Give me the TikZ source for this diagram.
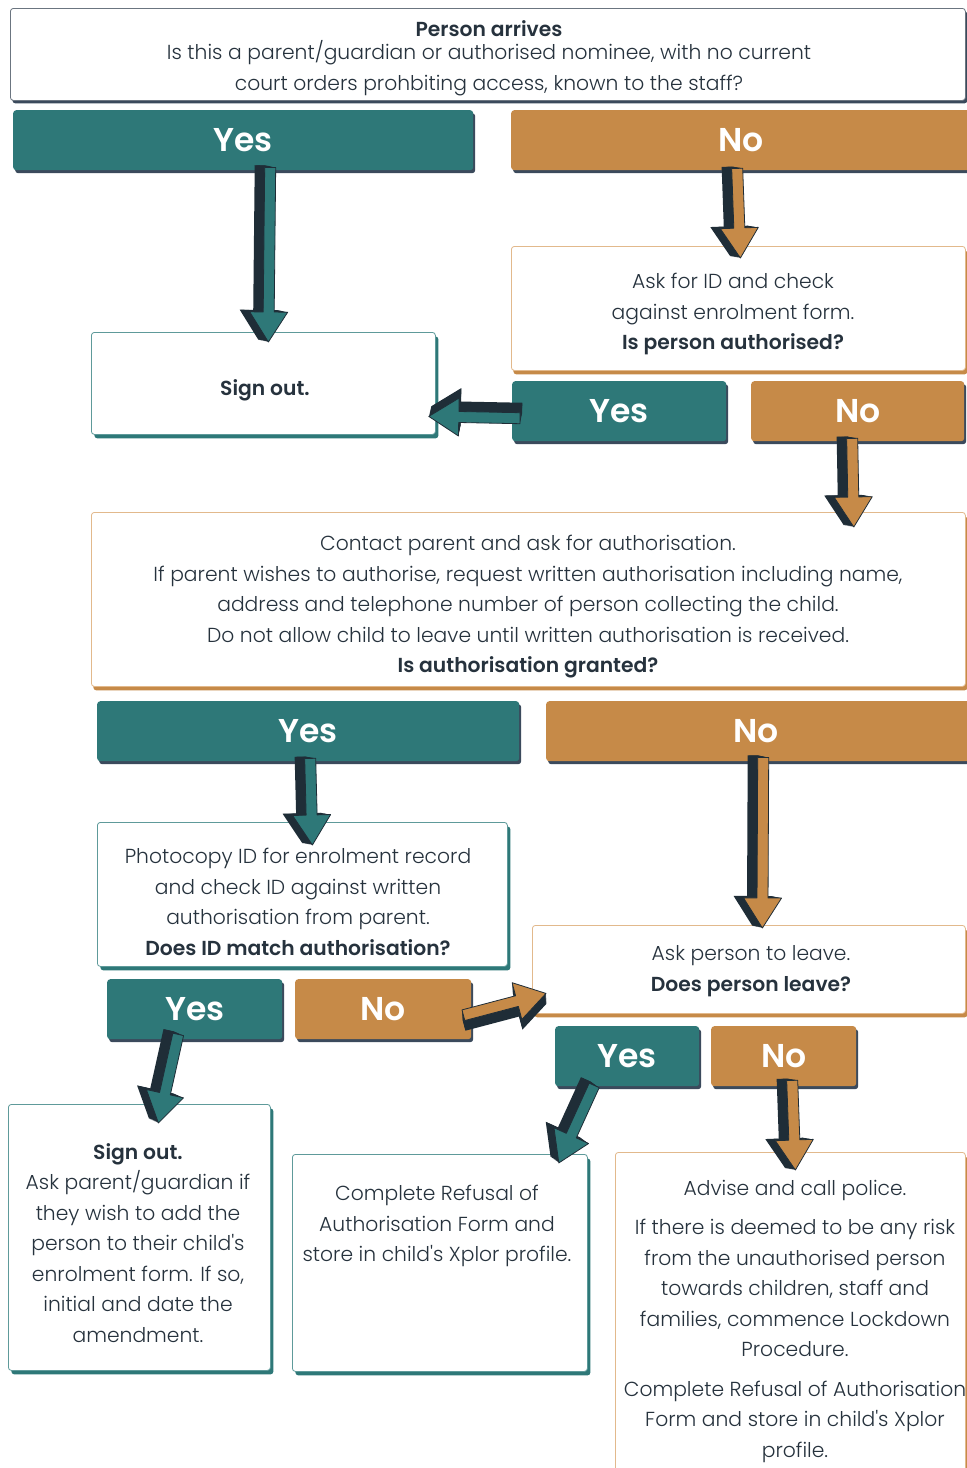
\documentclass[tikz,border=0pt]{standalone}
\usepackage{fontspec}
\setmainfont{Poppins Light}[BoldFont={Poppins SemiBold}]
\newfontfamily\labelfont{Poppins SemiBold}
\usetikzlibrary{shadows,calc}
\definecolor{tealc}{HTML}{2E7878}
\definecolor{orangec}{HTML}{C68A48}
\definecolor{darkc}{HTML}{1F2D37}
\definecolor{barshadow}{HTML}{3B4A5C}
\definecolor{txt}{HTML}{26323D}
\definecolor{orangeln}{HTML}{E2B98C}
\definecolor{tealln}{HTML}{5E9A9A}
\definecolor{greyln}{HTML}{6B7580}

\newcommand{\blockarrow}[3]{%
  \path #1; \pgfgetlastxy{\baX}{\baY}%
  \path #2; \pgfgetlastxy{\bbX}{\bbY}%
  \pgfmathsetmacro\baAng{atan2((\bbY)-(\baY),(\bbX)-(\baX))}%
  \pgfmathsetmacro\baLen{veclen((\bbX)-(\baX),(\bbY)-(\baY))}%
  \begin{scope}[shift={(\baX,\baY)}, rotate=\baAng, x=1pt, y=1pt]
    \foreach \t in {0.1,0.2,...,1.0} {
      \pgfmathsetmacro\dx{-2*\t}
      \pgfmathsetmacro\dy{-10*\t}
      \fill[darkc] (\dx,\dy-5.5) -- (\dx+\baLen-30,\dy-5.5) -- (\dx+\baLen-30,\dy-19)
        -- (\dx+\baLen,\dy) -- (\dx+\baLen-30,\dy+19) -- (\dx+\baLen-30,\dy+5.5)
        -- (\dx,\dy+5.5) -- cycle;
    }
    \draw[darkc, fill=#3, line width=0.8pt, line join=round]
      (0,-5.5) -- (\baLen-30,-5.5) -- (\baLen-30,-19) -- (\baLen,0)
      -- (\baLen-30,19) -- (\baLen-30,5.5) -- (0,5.5) -- cycle;
  \end{scope}
}

\tikzset{
  boxbase/.style={rounded corners=3pt, inner sep=0pt, anchor=north west},
  topbox/.style={boxbase, draw=greyln, line width=0.8pt, fill=white,
    drop shadow={shadow xshift=2pt, shadow yshift=-3pt, fill=barshadow, opacity=1}},
  tealbox/.style={boxbase, draw=tealln, line width=0.8pt, fill=white,
    drop shadow={shadow xshift=3pt, shadow yshift=-4pt, fill=tealc, opacity=1}},
  orangebox/.style={boxbase, draw=orangeln, line width=0.8pt, fill=white,
    drop shadow={shadow xshift=2pt, shadow yshift=-4pt, fill=orangec, opacity=1}},
  yesbar/.style={boxbase, fill=tealc, text=white, font=\labelfont\fontsize{33}{33}\selectfont,
    drop shadow={shadow xshift=2pt, shadow yshift=-3pt, fill=barshadow, opacity=1}},
  nobar/.style={boxbase, fill=orangec, text=white, font=\labelfont\fontsize{33}{33}\selectfont,
    drop shadow={shadow xshift=2pt, shadow yshift=-3pt, fill=barshadow, opacity=1}},
  bodytext/.style={align=center, text=txt, inner sep=0pt, font=\fontsize{20.3}{30.5}\selectfont},
}

\begin{document}
\begin{tikzpicture}[x=1pt, y=-1pt]
\useasboundingbox (0,0) rectangle (967,1468);
\fill[white] (0,0) rectangle (967,1468);

% boxes
\node[topbox, minimum width=955, minimum height=92] (top) at (10,8) {};
\node[yesbar, minimum width=460, minimum height=60] (yes1) at (13,110) {\raisebox{1pt}{Yes}};
\node[nobar, minimum width=470, minimum height=60] (no1) at (511,110) {\hspace*{-11pt}\raisebox{1pt}{No}};
\node[orangebox, minimum width=454, minimum height=124] (askid) at (511,246) {};
\node[tealbox, minimum width=344, minimum height=102] (so1) at (91,332) {};
\node[yesbar, minimum width=214, minimum height=60] (yes2) at (512,381) {Yes};
\node[nobar, minimum width=213, minimum height=60] (no2) at (751,381) {No};
\node[orangebox, minimum width=874, minimum height=174] (contact) at (91,512) {};
\node[yesbar, minimum width=422, minimum height=60] (yes3) at (97,701) {Yes};
\node[nobar, minimum width=430, minimum height=60] (no3) at (546,701) {\hspace*{-11pt}No};
\node[tealbox, minimum width=410, minimum height=144] (photo) at (97,822) {};
\node[orangebox, minimum width=433, minimum height=88] (askleave) at (532,925) {};
\node[yesbar, minimum width=175, minimum height=60] (yes4) at (107,979) {Yes};
\node[nobar, minimum width=176, minimum height=60] (no4) at (295,979) {No};
\node[yesbar, minimum width=144, minimum height=60] (yes5) at (555,1026) {Yes};
\node[nobar, minimum width=145, minimum height=60] (no5) at (711,1026) {No};
\node[tealbox, minimum width=262, minimum height=266] (so2) at (8,1104) {};
\node[tealbox, minimum width=295, minimum height=217] (refusal) at (292,1154) {};
\node[orangebox, minimum width=350, minimum height=340] (police) at (615,1152) {};

% texts
\node[bodytext] (ttop) at (489,58) {\textbf{Person arrives}\\[-7pt]
  Is this a parent/guardian or authorised nominee, with no current\\
  court orders prohbiting access, known to the staff?};
\node[bodytext] (taskid) at (733,314) {Ask for ID and check\\
  against enrolment form.\\ \textbf{Is person authorised?}};
\node[bodytext] (tso1) at (265,390) {\textbf{Sign out.}};
\node[bodytext] (tcontact) at (528,607) {Contact parent and ask for authorisation.\\
  If parent wishes to authorise, request written authorisation including name,\\
  address and telephone number of person collecting the child.\\
  Do not allow child to leave until written authorisation is received.\\
  \textbf{Is authorisation granted?}};
\node[bodytext] (tphoto) at (298,902) {Photocopy ID for enrolment record\\
  and check ID against written\\ authorisation from parent.\\
  \textbf{Does ID match authorisation?}};
\node[bodytext] (taskleave) at (751,971) {Ask person to leave.\\ \textbf{Does person leave?}};
\node[bodytext] (tso2) at (138,1243) {\textbf{Sign out.}\\ Ask parent/guardian if\\
  they wish to add the\\ person to their child\textquotesingle s\\ enrolment form. If so,\\
  initial and date the\\ amendment.};
\node[bodytext] (trefusal) at (437,1226) {Complete Refusal of\\ Authorisation Form and\\
  store in child\textquotesingle s Xplor profile.};
\node[bodytext] (tpolice) at (795,1321) {Advise and call police.\\[9pt]
  If there is deemed to be any risk\\ from the unauthorised person\\
  towards children, staff and\\ families, commence Lockdown\\ Procedure.\\[9pt]
  Complete Refusal of Authorisation\\ Form and store in child\textquotesingle s Xplor\\ profile.};

% arrows
\blockarrow{($(yes1.south)+(27,-3)$)}{($(so1.north)+(5,10)$)}{tealc}
\blockarrow{($(no1.south)+(-9,-2)$)}{($(askid.north)+(2,12)$)}{orangec}
\blockarrow{($(yes2.west)+(8,7)$)}{($(so1.east)+(-7,33)$)}{tealc}
\blockarrow{($(no2.south)+(-5.5,-3)$)}{($(contact.north east)+(-112,15)$)}{orangec}
\blockarrow{($(yes3.south)+(2,-3)$)}{($(photo.north)+(10,23)$)}{tealc}
\blockarrow{($(no3.south)+(2,-4)$)}{($(askleave.north)+(13.5,3)$)}{orangec}
\blockarrow{($(no4.east)+(-8,6)$)}{($(askleave.west)+(14,24)$)}{orangec}
\blockarrow{($(yes4.south)+(-16.5,-5)$)}{($(so2.north)+(19,19)$)}{tealc}
\blockarrow{($(yes5.south)+(-33,-1)$)}{($(refusal.north east)+(-29,9)$)}{tealc}
\blockarrow{($(no5.south)+(8.5,-6)$)}{($(police.north)+(5,18)$)}{orangec}
\end{tikzpicture}
\end{document}
